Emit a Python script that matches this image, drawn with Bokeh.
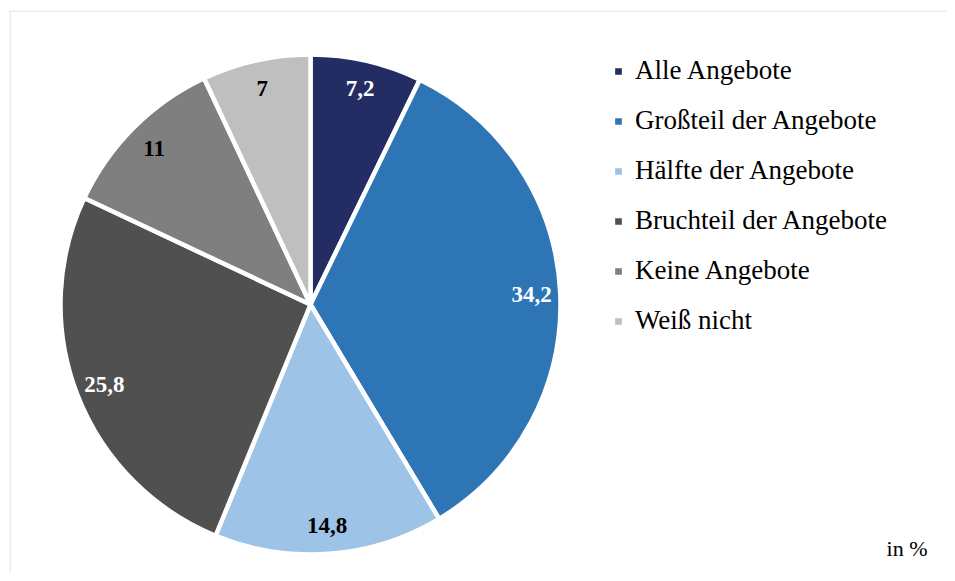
import math
from bokeh.plotting import figure
from bokeh.models import ColumnDataSource, Range1d, Legend, LegendItem, Label, Span
from bokeh.core.properties import value
from bokeh.embed import file_html
from bokeh.resources import INLINE

# ---- data ----
categories = ["Alle Angebote", "Großteil der Angebote", "Hälfte der Angebote",
              "Bruchteil der Angebote", "Keine Angebote", "Weiß nicht"]
values = [7.2, 34.2, 14.8, 25.8, 11, 7]
value_labels = ["7,2", "34,2", "14,8", "25,8", "11", "7"]
unit_label = "in %"

# ---- style ----
colors = ["#232d63", "#2e75b6", "#9dc3e6", "#505050", "#7f7f7f", "#bfbfbf"]
label_colors = ["white", "white", "black", "white", "black", "black"]
FONT = "Liberation Serif"

W, H = 947, 573
BL, BT = 9, 10
FW, FH = W - BL, H - BT
p = figure(width=W, height=H, output_backend="svg", toolbar_location=None,
           x_range=Range1d(0, FW), y_range=Range1d(0, FH),
           x_axis_location=None, y_axis_location=None,
           min_border=0, min_border_left=BL, min_border_top=BT,
           min_border_right=0, min_border_bottom=0)
p.grid.grid_line_color = None
p.outline_line_color = None

p.add_layout(Span(location=FH - 0.5, dimension="width", line_color="#d9d9d9", line_width=1))
p.add_layout(Span(location=0.5, dimension="height", line_color="#d9d9d9", line_width=1))

cx, cy, R = 301, 269, 250
total = sum(values)
starts, ends, lx, ly = [], [], [], []
cum = 0.0
for v in values:
    a0 = math.pi / 2 - 2 * math.pi * cum / total
    a1 = math.pi / 2 - 2 * math.pi * (cum + v) / total
    starts.append(a0)
    ends.append(a1)
    mid = (a0 + a1) / 2
    lx.append(cx + 0.885 * R * math.cos(mid))
    ly.append(cy + 0.885 * R * math.sin(mid))
    cum += v

src = ColumnDataSource(dict(cat=categories, val=values, start=starts, end=ends,
                            color=colors, lx=lx, ly=ly, lab=value_labels,
                            lc=label_colors))

w = p.wedge(x=cx, y=cy, radius=R, start_angle="start", end_angle="end",
            direction="clock", fill_color="color", line_color="white",
            line_width=4.5, source=src)

p.text(x="lx", y="ly", text="lab", text_color="lc", source=src,
       text_font=value(FONT), text_font_style="bold", text_font_size="23px",
       text_align="center", text_baseline="middle")

legend = Legend(items=[LegendItem(label=c, renderers=[w], index=i)
                       for i, c in enumerate(categories)],
                location=(602, 237), glyph_width=14, glyph_height=14,
                label_height=30, spacing=19, label_standoff=10,
                padding=0, margin=0, border_line_color=None,
                background_fill_alpha=0,
                label_text_font=FONT, label_text_font_size="27px",
                label_text_color="black")
p.add_layout(legend)

p.add_layout(Label(x=918, y=25, x_units="screen", y_units="screen",
                   text=unit_label, text_align="right",
                   text_baseline="alphabetic", text_font=FONT,
                   text_font_size="22px", text_color="black"))

open("out.html", "w").write(file_html(p, INLINE))
